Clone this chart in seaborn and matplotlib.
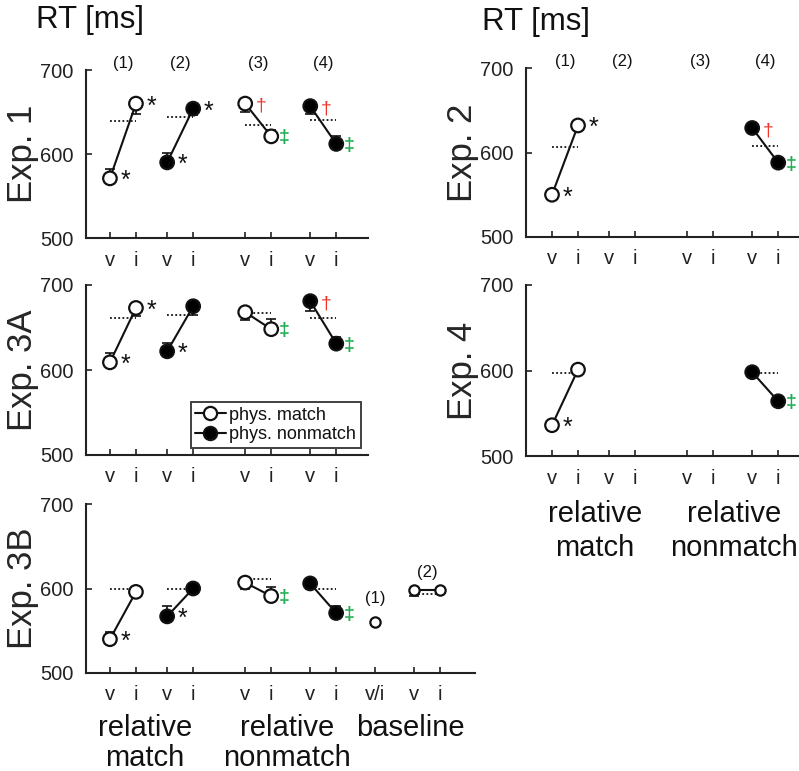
import numpy as np
import pandas as pd
import seaborn as sns
import matplotlib.pyplot as plt
from matplotlib.lines import Line2D

sns.set_style("ticks")
plt.rcParams["font.family"] = ["Liberation Sans", "DejaVu Sans"]
plt.rcParams["axes.edgecolor"] = "#222222"
plt.rcParams["text.color"] = "#111111"

# x positions of the v / i conditions (pair spacing = 1)
pos_v = [0.0, 2.2, 5.2, 7.7]
pos_i = [1.0, 3.2, 6.2, 8.7]
phys = ["match", "nonmatch", "match", "nonmatch"]
col_labels = ["(1)", "(2)", "(3)", "(4)"]

# Exp. 1
exp1_v = [571, 590, 660, 657]
exp1_i = [660, 654, 621, 612]
exp1_dot = [639, 644, 635, 641]
exp1_se_v = [11, 11, 10, 9]
exp1_se_i = [12, 8, 8, 9]
exp1_sig_v = ["*", "*", "†", "†"]
exp1_sig_i = ["*", "*", "‡", "‡"]

# Exp. 3A
exp3a_v = [609, 622, 668, 681]
exp3a_i = [673, 675, 648, 631]
exp3a_dot = [661, 665, 667, 661]
exp3a_se_v = [11, 10, 9, 12]
exp3a_se_i = [9, 10, 12, 8]
exp3a_sig_v = ["*", "*", "", "†"]
exp3a_sig_i = ["*", "", "‡", "‡"]

# Exp. 3B
exp3b_v = [540, 567, 607, 606]
exp3b_i = [596, 600, 591, 571]
exp3b_dot = [600, 600, 611, 599]
exp3b_se_v = [8, 12, 7, 7]
exp3b_se_i = [6, 7, 11, 8]
exp3b_sig_v = ["*", "*", "", ""]
exp3b_sig_i = ["", "", "‡", "‡"]

# Exp. 3B baseline conditions
base_pos = [10.2, 11.7, 12.7]
base_labels = ["v/i", "v", "i"]
base1_rt = 560
base2_v = 598
base2_i = 598
base2_dot = 593
base2_se_v = 7

# Exp. 2 (only conditions 1 and 4)
exp2_v = [550, np.nan, np.nan, 629]
exp2_i = [632, np.nan, np.nan, 588]
exp2_dot = [606, np.nan, np.nan, 608]
exp2_sig_v = ["*", "", "", "†"]
exp2_sig_i = ["*", "", "", "‡"]

# Exp. 4
exp4_v = [536, np.nan, np.nan, 598]
exp4_i = [601, np.nan, np.nan, 564]
exp4_dot = [597, np.nan, np.nan, 597]
exp4_sig_v = ["*", "", "", ""]
exp4_sig_i = ["", "", "", "‡"]

no_se = [0, 0, 0, 0]

sig_color = {"*": "#111111", "†": "#f0342c", "‡": "#1fae52"}
palette = {"match": "white", "nonmatch": "black"}

W, H = 799, 771
fig = plt.figure(figsize=(W / 100, H / 100), dpi=100)


def px_axes(x0, x1, y0, y1):
    return fig.add_axes([x0 / W, 1 - y1 / H, (x1 - x0) / W, (y1 - y0) / H])


def style_axis(ax, ylabel):
    ax.set_xlabel("")
    ax.set_ylabel(ylabel, fontsize=25, labelpad=1)
    ax.tick_params(direction="in", length=4, width=1.2, labelsize=14.5,
                   pad=9, colors="#222222")
    sns.despine(ax=ax)
    for sp in ["left", "bottom"]:
        ax.spines[sp].set_linewidth(1.5)


def draw_panel(ax, v, i, dot, se_v, se_i, sig_v, sig_i, ylabel, xlim, header):
    rows = []
    for k in range(4):
        if np.isnan(v[k]):
            continue
        rows.append({"pos": pos_v[k], "rt": v[k], "pair": k, "phys": phys[k]})
        rows.append({"pos": pos_i[k], "rt": i[k], "pair": k, "phys": phys[k]})
    df = pd.DataFrame(rows)

    # dotted reference lines
    for k in range(4):
        if np.isnan(dot[k]):
            continue
        ax.hlines(dot[k], pos_v[k], pos_i[k], colors="#111111",
                  linestyles=(0, (1, 1.3)), lw=1.3, zorder=1.5)

    # one-sided error bars pointing toward the partner condition
    for k in range(4):
        if np.isnan(v[k]):
            continue
        for x, y, other, se in [(pos_v[k], v[k], i[k], se_v[k]),
                                (pos_i[k], i[k], v[k], se_i[k])]:
            if se <= 0:
                continue
            err = [[0], [se]] if other > y else [[se], [0]]
            ax.errorbar(x, y, yerr=err, fmt="none", ecolor="#111111",
                        elinewidth=1.2, capsize=3.5, capthick=1.2, zorder=1.8)

    sns.lineplot(data=df, x="pos", y="rt", units="pair", estimator=None,
                 color="#111111", lw=1.5, ax=ax, zorder=2)
    sns.scatterplot(data=df, x="pos", y="rt", hue="phys", palette=palette,
                    edgecolor="#111111", linewidth=1.6, s=95, legend=False,
                    ax=ax, zorder=3)

    # significance marks
    for k in range(4):
        if np.isnan(v[k]):
            continue
        for x, y, s in [(pos_v[k], v[k], sig_v[k]), (pos_i[k], i[k], sig_i[k])]:
            if not s:
                continue
            if s == "*":
                ax.annotate(s, (x, y), xytext=(7.5, -2), textcoords="offset points",
                            ha="left", va="center", fontsize=18, color=sig_color[s])
            elif s == "†":
                ax.annotate(s, (x, y), xytext=(7.5, -2), textcoords="offset points",
                            ha="left", va="center", fontsize=14, color=sig_color[s])
            else:
                ax.annotate(s, (x, y), xytext=(5.5, -1), textcoords="offset points",
                            ha="left", va="center", fontsize=14, fontweight="bold",
                            color=sig_color[s])

    if header:
        for k in range(4):
            ax.annotate(col_labels[k], ((pos_v[k] + pos_i[k]) / 2, 700),
                        xytext=(0, 5), textcoords="offset points",
                        ha="center", va="center", fontsize=12,
                        annotation_clip=False)

    ax.set_xlim(*xlim)
    ax.set_ylim(500, 700)
    ax.set_yticks([500, 600, 700])
    ax.set_xticks(sorted(pos_v + pos_i))
    ax.set_xticklabels(["v", "i"] * 4)
    style_axis(ax, ylabel)


left_xlim = (-0.92, 9.92)
right_xlim = (-1.0, 9.5)

ax1 = px_axes(86, 368, 70, 238)
draw_panel(ax1, exp1_v, exp1_i, exp1_dot, exp1_se_v, exp1_se_i,
           exp1_sig_v, exp1_sig_i, "Exp. 1", left_xlim, True)

ax3a = px_axes(86, 368, 285, 455)
draw_panel(ax3a, exp3a_v, exp3a_i, exp3a_dot, exp3a_se_v, exp3a_se_i,
           exp3a_sig_v, exp3a_sig_i, "Exp. 3A", left_xlim, False)
handles = [
    Line2D([], [], color="#111111", lw=1.5, marker="o", markersize=9.5,
           markerfacecolor="white", markeredgecolor="#111111", markeredgewidth=1.6),
    Line2D([], [], color="#111111", lw=1.5, marker="o", markersize=9.5,
           markerfacecolor="black", markeredgecolor="#111111", markeredgewidth=1.6),
]
leg = ax3a.legend(handles, ["phys. match", "phys. nonmatch"], loc="lower right",
                  fontsize=13, frameon=True, fancybox=False, handlelength=1.7,
                  handletextpad=0.2, borderpad=0.25, labelspacing=0.15,
                  borderaxespad=0.4)
leg.get_frame().set_edgecolor("#111111")
leg.get_frame().set_linewidth(1.4)

ax3b = px_axes(86, 475, 504, 673)
draw_panel(ax3b, exp3b_v, exp3b_i, exp3b_dot, exp3b_se_v, exp3b_se_i,
           exp3b_sig_v, exp3b_sig_i, "Exp. 3B", (-0.92, 14.04), False)
# baseline conditions
base_df = pd.DataFrame({"pos": base_pos, "rt": [base1_rt, base2_v, base2_i],
                        "pair": [0, 1, 1]})
ax3b.hlines(base2_dot, base_pos[1], base_pos[2], colors="#111111",
            linestyles=(0, (1, 1.3)), lw=1.3, zorder=1.5)
ax3b.errorbar(base_pos[1], base2_v, yerr=[[base2_se_v], [0]], fmt="none",
              ecolor="#111111", elinewidth=1.2, capsize=3.5, capthick=1.2, zorder=1.8)
sns.lineplot(data=base_df[base_df["pair"] == 1], x="pos", y="rt",
             color="#111111", lw=1.5, ax=ax3b, zorder=2)
sns.scatterplot(data=base_df, x="pos", y="rt", color="white", edgecolor="#111111",
                linewidth=1.6, s=55, ax=ax3b, zorder=3)
ax3b.annotate("(1)", (base_pos[0], base1_rt), xytext=(0, 17), textcoords="offset points",
              ha="center", va="center", fontsize=12)
ax3b.annotate("(2)", ((base_pos[1] + base_pos[2]) / 2, base2_v), xytext=(0, 13),
              textcoords="offset points", ha="center", va="center", fontsize=12)
ax3b.set_xticks(sorted(pos_v + pos_i) + base_pos)
ax3b.set_xticklabels(["v", "i"] * 4 + base_labels)
style_axis(ax3b, "Exp. 3B")

ax2 = px_axes(526, 799, 68, 237)
draw_panel(ax2, exp2_v, exp2_i, exp2_dot, no_se, no_se,
           exp2_sig_v, exp2_sig_i, "Exp. 2", right_xlim, True)

ax4 = px_axes(526, 799, 285, 456)
draw_panel(ax4, exp4_v, exp4_i, exp4_dot, no_se, no_se,
           exp4_sig_v, exp4_sig_i, "Exp. 4", right_xlim, False)

# headings and group labels
fig.text(90 / W, 1 - 20 / H, "RT [ms]", ha="center", va="center", fontsize=22.5)
fig.text(536 / W, 1 - 22 / H, "RT [ms]", ha="center", va="center", fontsize=22.5)
fig.text(145 / W, 1 - 743 / H, "relative\nmatch", ha="center", va="center",
         fontsize=21, linespacing=1.1)
fig.text(287 / W, 1 - 743 / H, "relative\nnonmatch", ha="center", va="center",
         fontsize=21, linespacing=1.1)
fig.text(410 / W, 1 - 728 / H, "baseline", ha="center", va="center", fontsize=21)
fig.text(595 / W, 1 - 531 / H, "relative\nmatch", ha="center", va="center",
         fontsize=21, linespacing=1.25)
fig.text(734 / W, 1 - 531 / H, "relative\nnonmatch", ha="center", va="center",
         fontsize=21, linespacing=1.25)

fig.savefig("out.png", dpi=100)
plt.close(fig)
